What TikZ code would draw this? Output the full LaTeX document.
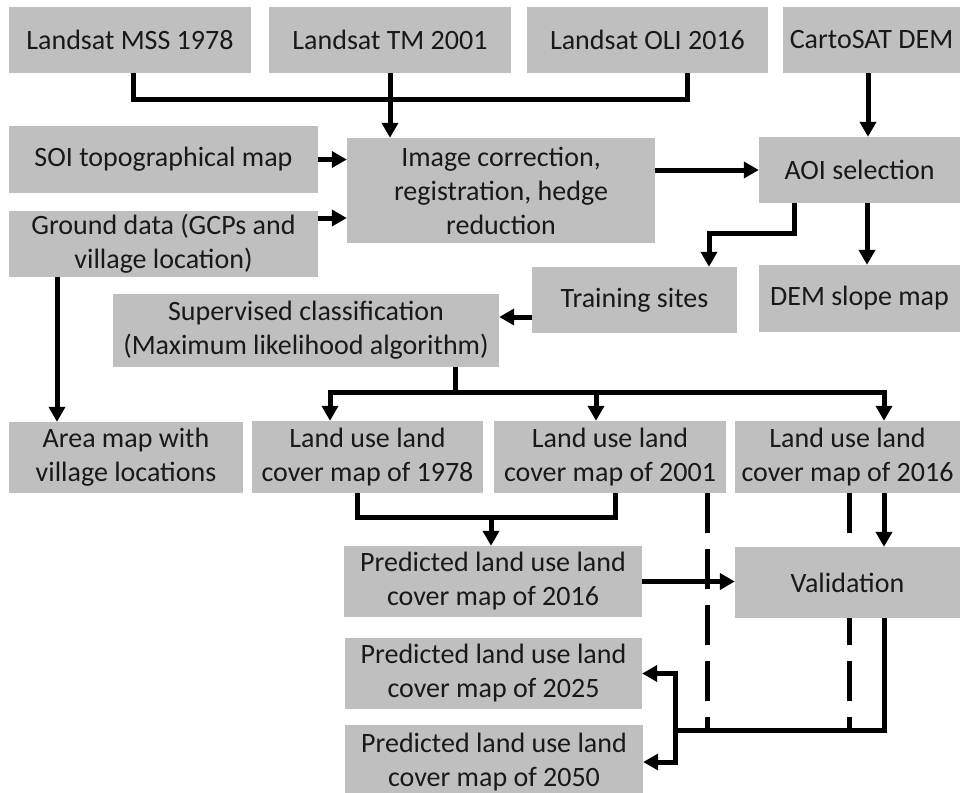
\documentclass[tikz,border=0pt]{standalone}
\usepackage{fontspec}
\setmainfont{Carlito}
\usetikzlibrary{arrows.meta,calc,backgrounds}

\definecolor{boxgray}{RGB}{191,191,191}
\definecolor{txtgray}{RGB}{25,25,25}

\tikzset{
  box/.style={fill=boxgray, text=txtgray, inner sep=0pt, align=center,
    font=\fontsize{28}{34}\selectfont},
  link/.style={line width=5pt, draw=black},
  arr/.style={link, -{Triangle[length=15pt,width=16pt]}},
  dashlink/.style={link, dash pattern=on 40pt off 16pt},
}

\begin{document}
\begin{tikzpicture}[x=1pt, y=-1pt]

    \useasboundingbox (0,0) rectangle (960,792);
    \clip (0,0) rectangle (960,792);

    % input data
    \node[box, minimum width=242pt, minimum height=66pt] (mss) at (130,40) {Landsat MSS 1978};
    \node[box, minimum width=242pt, minimum height=66pt] (tm) at (390,40) {Landsat TM 2001};
    \node[box, minimum width=241pt, minimum height=66pt] (oli) at (647.5,40) {Landsat OLI 2016};
    \node[box, minimum width=177pt, minimum height=66pt] (carto) at (871.5,40) {CartoSAT DEM};

    \node[box, minimum width=309pt, minimum height=67pt] (soi) at (163.5,159.5) {SOI topographical map};
    \node[box, minimum width=309pt, minimum height=66pt] (ground) at (163.5,244) {Ground data (GCPs and\\village location)};

    % preprocessing
    \node[box, minimum width=308pt, minimum height=105pt] (imgcor) at (501,190.5) {Image correction,\\registration, hedge\\reduction};
    \node[box, minimum width=201pt, minimum height=66pt] (aoi) at (859.5,170) {AOI selection};
    \node[box, minimum width=205pt, minimum height=66pt] (train) at (634.5,300) {Training sites};
    \node[box, minimum width=201pt, minimum height=67pt] (dem) at (859.5,298.5) {DEM slope map};
    \node[box, minimum width=386pt, minimum height=73pt] (superv) at (306,330.5) {Supervised classification\\(Maximum likelihood algorithm)};

    % output maps
    \node[box, minimum width=234pt, minimum height=71pt] (area) at (126,457.5) {Area map with\\village locations};
    \node[box, minimum width=231pt, minimum height=72pt] (lulc78) at (367.5,457) {Land use land\\cover map of 1978};
    \node[box, minimum width=232pt, minimum height=72pt] (lulc01) at (610,457) {Land use land\\cover map of 2001};
    \node[box, minimum width=225pt, minimum height=72pt] (lulc16) at (847.5,457) {Land use land\\cover map of 2016};

    % prediction and validation
    \node[box, minimum width=298pt, minimum height=71pt] (pred16) at (493,581.5) {Predicted land use land\\cover map of 2016};
    \node[box, minimum width=225pt, minimum height=71pt] (valid) at (847.5,582.5) {Validation};
    \node[box, minimum width=297pt, minimum height=71pt] (pred25) at (493.5,673.5) {Predicted land use land\\cover map of 2025};
    \node[box, minimum width=298pt, minimum height=74pt] (pred50) at (494,762) {Predicted land use land\\cover map of 2050};

    \coordinate (bus1) at (390,99);
    \coordinate (fork) at (675,730);

    % Landsat -> image correction
    \draw[link] ([xshift=3pt]mss.south) |- (bus1) -| ([xshift=39.5pt]oli.south);
    \draw[arr] (tm.south) -- (tm.south |- imgcor.north);

    % CartoSAT -> AOI
    \path ([xshift=-3.5pt]carto.south) coordinate (c1);
    \draw[arr] (c1) -- (c1 |- aoi.north);

    % SOI, ground data -> image correction
    \draw[arr] (soi.east) -- (soi.east -| imgcor.west);
    \path ([yshift=26pt]ground.east) coordinate (g1);
    \draw[arr] (g1) -- (g1 -| imgcor.west);

    % image correction -> AOI
    \draw[arr] (imgcor.east |- aoi.west) -- (aoi.west);

    % AOI -> training sites, DEM slope map
    \draw[arr] ([xshift=-65.5pt]aoi.south) -- ++(0,30) -| ([xshift=74.5pt]train.north);
    \draw[arr] ([xshift=7.5pt]aoi.south) -- ([xshift=7.5pt]dem.north);

    % training sites -> classification
    \path ([yshift=-17pt]train.west) coordinate (t1);
    \draw[arr] (t1) -- (t1 -| superv.east);

    % ground data -> area map
    \path ([xshift=-106.5pt]ground.south) coordinate (g2);
    \draw[arr] (g2) -- (g2 |- area.north);

    % classification -> land use maps
    \draw[link] ([xshift=149pt]superv.south) -- ++(0,25) coordinate (bus2);
    \draw[arr] (bus2) -| ([xshift=-37.5pt]lulc78.north);
    \draw[arr] (bus2) -| ([xshift=-14pt]lulc01.north);
    \draw[arr] (bus2) -| ([xshift=36.5pt]lulc16.north);

    % 1978, 2001 -> predicted 2016
    \draw[link] ([xshift=-10.5pt]lulc78.south) -- ++(0,24) -| ([xshift=5pt]lulc01.south);
    \draw[arr] ([xshift=-2pt,yshift=29pt]pred16.north) -- ([xshift=-2pt]pred16.north);

    % -> validation
    \draw[arr] (pred16.east) -- (pred16.east -| valid.west);
    \draw[arr] ([xshift=36.5pt]lulc16.south) -- ([xshift=36.5pt]valid.north);

    % validation -> predicted 2025, 2050
    \draw[link] ([xshift=36.5pt]valid.south) |- (fork);
    \draw[arr] (fork) |- (pred25.east);
    \draw[arr] (fork) |- (pred50.east);

    % dashed links
    \begin{pgfonlayer}{background}
        \path ([xshift=97pt]lulc01.south) coordinate (d1);
        \path ([xshift=1.5pt]lulc16.south) coordinate (d2);
        \draw[dashlink] (d1) -- (d1 |- fork);
        \draw[dashlink] (d2) -- (d2 |- fork);
    \end{pgfonlayer}

\end{tikzpicture}
\end{document}
